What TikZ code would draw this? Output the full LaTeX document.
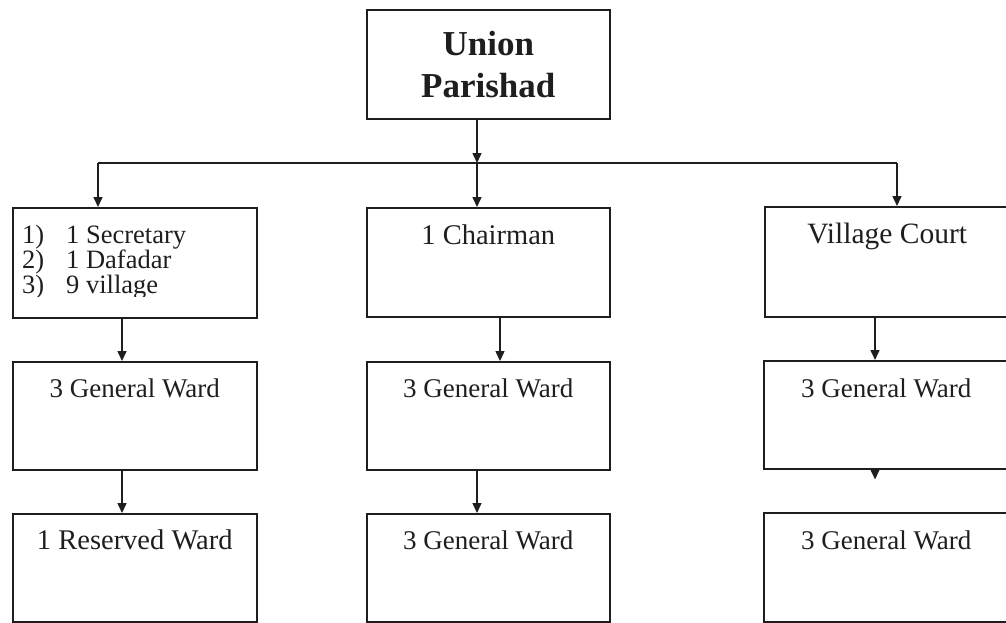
\documentclass[tikz,border=0pt]{standalone}
\usepackage{fontspec}
\setmainfont{Liberation Serif}
\usetikzlibrary{arrows.meta,calc}
\definecolor{ink}{HTML}{1E1E1E}
\begin{document}
\begin{tikzpicture}[x=1pt,y=-1pt,
  box/.style={draw=ink, line width=1.5pt, rectangle, inner sep=0pt,
              anchor=north west, minimum height=108pt},
  lbl/.style={anchor=base, inner sep=0pt, text=ink,
              font=\fontsize{27}{27}\selectfont},
  big/.style={lbl, font=\fontsize{28.5}{28.5}\selectfont},
  head/.style={anchor=base, inner sep=0pt, text=ink,
               font=\fontsize{35}{35}\selectfont\bfseries},
  item/.style={anchor=base west, inner sep=0pt, text=ink,
               font=\fontsize{26.5}{26.5}\selectfont},
  link/.style={draw=ink, line width=1.5pt},
  arr/.style={link, -{Triangle[length=10pt,width=9pt]}}]
\useasboundingbox (0,0) rectangle (1006,622);

% top box
\node[box, minimum width=243pt, minimum height=109pt] (top) at (366,9) {};
\node[head] (t1) at ($(top.north)+(0,46)$) {Union};
\node[head] (t2) at ($(top.north)+(0,88)$) {Parishad};

% first row
\node[box, minimum width=244pt, minimum height=110pt] (l1) at (12,207) {};
\node[box, minimum width=243pt, minimum height=109pt] (m1) at (366,207) {};
\node[box, minimum width=245pt, minimum height=110pt] (r1) at (764,206) {};

% second row
\node[box, minimum width=244pt] (l2) at (12,361) {};
\node[box, minimum width=243pt] (m2) at (366,361) {};
\node[box, minimum width=245pt] (r2) at (763,360) {};

% third row
\node[box, minimum width=244pt] (l3) at (12,513) {};
\node[box, minimum width=243pt] (m3) at (366,513) {};
\node[box, minimum width=245pt, minimum height=109pt] (r3) at (763,512) {};

% list in the first box, cut off at its lower edge
\begin{scope}
  \clip (12,207) rectangle (256,296);
  \node[item] (i1) at (22,243) {\makebox[44pt][l]{1)}1 Secretary};
  \node[item] (i2) at (22,268) {\makebox[44pt][l]{2)}1 Dafadar};
  \node[item] (i3) at (22,293) {\makebox[44pt][l]{3)}9 village};
\end{scope}

% box captions
\node[big] (c1) at ($(m1.north)+(0,37)$) {1 Chairman};
\node[lbl, font=\fontsize{29.5}{29.5}\selectfont] (c2) at ($(r1.north)+(0,37)$) {Village Court};
\node[lbl] (c3) at ($(l2.north)+(0,36)$) {3 General Ward};
\node[lbl] (c4) at ($(m2.north)+(0,36)$) {3 General Ward};
\node[lbl] (c5) at ($(r2.north)+(0,37)$) {3 General Ward};
\node[big] (c6) at ($(l3.north)+(0,36)$) {1 Reserved Ward};
\node[lbl] (c7) at ($(m3.north)+(0,36)$) {3 General Ward};
\node[lbl] (c8) at ($(r3.north)+(0,37)$) {3 General Ward};

% branching from the top box
\coordinate (hub) at (477,163);
\coordinate (bl) at (98,163);
\coordinate (br) at (897,163);
\draw[arr] (top.south -| hub) -- (hub);
\draw[link] (bl) -- (br);
\draw[arr] (bl) -- (bl |- l1.north);
\draw[arr] (hub) -- (hub |- m1.north);
\draw[arr] (br) -- (br |- r1.north);

% column connectors
\coordinate (lx) at (122,0);
\coordinate (mx) at (500,0);
\coordinate (my) at (477,0);
\coordinate (rx) at (875,0);
\draw[arr] (l1.south -| lx) -- (l2.north -| lx);
\draw[arr] (l2.south -| lx) -- (l3.north -| lx);
\draw[arr] (m1.south -| mx) -- (m2.north -| mx);
\draw[arr] (m2.south -| my) -- (m3.north -| my);
\draw[arr] (r1.south -| rx) -- (r2.north -| rx);
\draw[arr] (r2.south -| rx) -- ++(0,10);
\end{tikzpicture}
\end{document}
